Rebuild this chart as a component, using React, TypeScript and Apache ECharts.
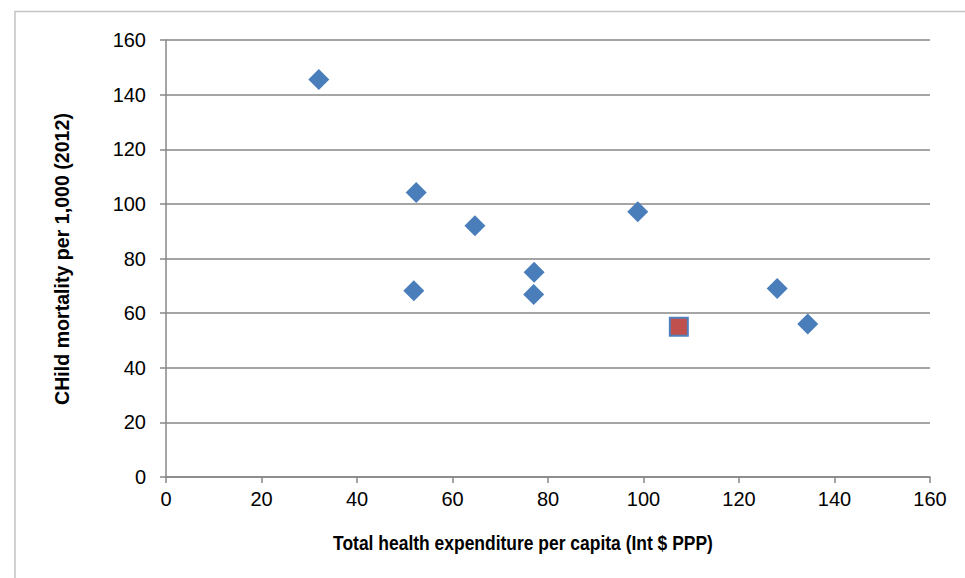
import React, { useEffect, useRef } from "react";
import * as echarts from "echarts";

const expenditure = [32, 52.4, 51.9, 64.7, 77.1, 77.0, 98.8, 128.0, 134.4];
const mortality = [145.5, 104.2, 68.2, 92.0, 75.0, 66.8, 97.1, 69.0, 56.0];
const highlightX = [107.4];
const highlightY = [55.0];
const xTitle = "Total health expenditure per capita (Int $ PPP)";
const yTitle = "CHild mortality per 1,000 (2012)";

const FONT = "'Liberation Sans', Arial, sans-serif";
const AXIS_GRAY = "#878787";

function measure(text: string, size: number, weight: string) {
  const c = document.createElement("canvas").getContext("2d");
  if (!c) return text.length * size * 0.5;
  c.font = `${weight} ${size}px 'Liberation Sans', Arial, sans-serif`;
  return c.measureText(text).width;
}

export default function App() {
  const ref = useRef<HTMLDivElement>(null);
  useEffect(() => {
    if (!ref.current) return;
    const chart = echarts.init(ref.current, undefined, { renderer: "svg" });
    const mainData = expenditure.map((x, i) => [x, mortality[i]]);
    const hlData = highlightX.map((x, i) => [x, highlightY[i]]);
    const titleSize = 20;
    const titleWeight = "bold";
    const xScale = 380 / measure(xTitle, titleSize, titleWeight);
    const yScale = 292 / measure(yTitle, titleSize, titleWeight);
    chart.setOption({
      animation: false,
      backgroundColor: "#ffffff",
      textStyle: { fontFamily: FONT },
      grid: { left: 166, right: 35, top: 40, bottom: 101, containLabel: false },
      xAxis: {
        type: "value",
        min: 0,
        max: 160,
        interval: 20,
        splitLine: { show: false },
        axisLine: { show: true, lineStyle: { color: AXIS_GRAY, width: 1.5 } },
        axisTick: { show: true, length: 6, lineStyle: { color: AXIS_GRAY, width: 1.5 } },
        axisLabel: { color: "#000", fontSize: 20, fontFamily: FONT, margin: 12 },
      },
      yAxis: {
        type: "value",
        min: 0,
        max: 160,
        interval: 20,
        splitLine: { show: true, lineStyle: { color: AXIS_GRAY, width: 1.5 } },
        axisLine: { show: true, lineStyle: { color: AXIS_GRAY, width: 1.5 } },
        axisTick: { show: true, length: 6, lineStyle: { color: AXIS_GRAY, width: 1.5 } },
        axisLabel: { color: "#000", fontSize: 20, fontFamily: FONT, margin: 20 },
      },
      graphic: [
        {
          type: "polyline",
          shape: { points: [[15, 578], [15, 11.5], [965, 11.5]] },
          style: { stroke: "#c4c4c4", lineWidth: 1.5, fill: null },
          silent: true,
        },
        {
          type: "text",
          x: 523,
          y: 543,
          scaleX: xScale,
          style: {
            text: xTitle,
            fontFamily: FONT,
            fontSize: titleSize,
            fontWeight: titleWeight,
            fill: "#000",
            align: "center",
            verticalAlign: "middle",
          },
        },
        {
          type: "text",
          x: 62,
          y: 259,
          rotation: Math.PI / 2,
          scaleX: yScale,
          style: {
            text: yTitle,
            fontFamily: FONT,
            fontSize: titleSize,
            fontWeight: titleWeight,
            fill: "#000",
            align: "center",
            verticalAlign: "middle",
          },
        },
      ],
      series: [
        {
          type: "scatter",
          data: mainData,
          symbol: "diamond",
          symbolSize: 21,
          itemStyle: { color: "#4a7ebb", opacity: 1 },
          z: 3,
        },
        {
          type: "scatter",
          data: hlData,
          symbol: "rect",
          symbolSize: 18,
          itemStyle: { color: "#c0504d", borderColor: "#4f81bd", borderWidth: 2, opacity: 1 },
          z: 4,
        },
      ],
    });
    return () => chart.dispose();
  }, []);
  return <div ref={ref} style={{ width: 965, height: 578, position: "absolute", left: 0, top: 0 }} />;
}
